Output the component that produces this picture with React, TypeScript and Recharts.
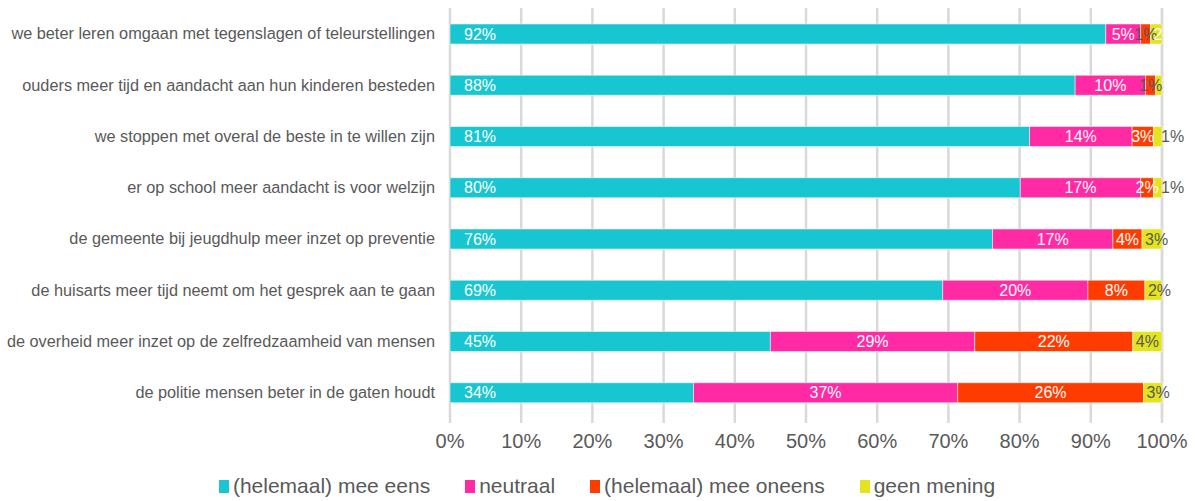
import React from 'react';
import { BarChart, Bar, XAxis, YAxis, CartesianGrid, Legend, LabelList } from 'recharts';

const categories = [
  'we beter leren omgaan met tegenslagen of teleurstellingen',
  'ouders meer tijd en aandacht aan hun kinderen besteden',
  'we stoppen met overal de beste in te willen zijn',
  'er op school meer aandacht is voor welzijn',
  'de gemeente bij jeugdhulp meer inzet op preventie',
  'de huisarts meer tijd neemt om het gesprek aan te gaan',
  'de overheid meer inzet op de zelfredzaamheid van mensen',
  'de politie mensen beter in de gaten houdt',
];

const eens = [92.1, 87.8, 81.4, 80.1, 76.2, 69.2, 45.0, 34.2];
const neutraal = [4.9, 9.9, 14.4, 16.9, 16.9, 20.4, 28.7, 37.1];
const oneens = [1.4, 1.4, 3.0, 1.8, 4.1, 8.0, 22.2, 26.1];
const geen = [1.6, 0.9, 1.2, 1.2, 2.8, 2.4, 4.1, 2.6];

const xTicks = [0, 10, 20, 30, 40, 50, 60, 70, 80, 90, 100];

const CYAN = '#17C6D1';
const PINK = '#FF2AA4';
const RED = '#FF3C00';
const YELLOW = '#E3E31E';
const TEXT = '#595959';
const GRID = '#D9D9D9';
const FONT = '"Liberation Sans", Arial, sans-serif';

const series = [
  { key: 'eens', name: '(helemaal) mee eens', color: CYAN },
  { key: 'neutraal', name: 'neutraal', color: PINK },
  { key: 'oneens', name: '(helemaal) mee oneens', color: RED },
  { key: 'geen', name: 'geen mening', color: YELLOW },
];

const data = categories.map((cat, i) => ({
  cat,
  eens: eens[i],
  neutraal: neutraal[i],
  oneens: oneens[i],
  geen: geen[i],
}));

type LblProps = { x?: any; y?: any; width?: any; height?: any; value?: any };

const pct = (v: number) => `${Math.round(v)}%`;

function LeftLabel({ x, y, height, value }: LblProps) {
  return (
    <text x={Number(x) + 14} y={Number(y) + Number(height) / 2} dy="0.35em" fill="#fff" fontSize={16} fontFamily={FONT}>
      {pct(value)}
    </text>
  );
}

function CenterLabel({ x, y, width, height, value }: LblProps) {
  const v = Number(value);
  return (
    <text
      x={Number(x) + Number(width) / 2}
      y={Number(y) + Number(height) / 2}
      dy="0.35em"
      textAnchor="middle"
      fill={v < 1.5 ? TEXT : '#fff'}
      fontSize={16}
      fontFamily={FONT}
    >
      {pct(v)}
    </text>
  );
}

// small yellow segments: label starts just inside, or right after the bar when very narrow
function YellowLabel({ x, y, width, height, value }: LblProps) {
  const v = Number(value);
  if (v < 1) return null;
  const w = Number(width);
  const inside = w >= 10;
  const lx = inside ? Number(x) + 3 : Number(x) + w - 1;
  const narrow = inside && v < 2;
  return (
    <text
      x={lx}
      y={Number(y) + Number(height) / 2}
      dy="0.35em"
      fill={narrow ? '#fff' : TEXT}
      fontSize={16}
      fontFamily={FONT}
    >
      {narrow ? String(Math.round(v)) : pct(v)}
    </text>
  );
}

function LegendContent() {
  return (
    <div
      style={{
        height: 30,
        display: 'flex',
        justifyContent: 'center',
        alignItems: 'center',
        gap: 35,
        fontFamily: FONT,
        fontSize: 21,
        color: TEXT,
        paddingLeft: 52,
        paddingTop: 2,
      }}
    >
      {series.map((s) => (
        <div key={s.key} style={{ display: 'flex', alignItems: 'center' }}>
          <span style={{ width: 10, height: 13, background: s.color, marginRight: 4, display: 'inline-block' }} />
          <span>{s.name}</span>
        </div>
      ))}
    </div>
  );
}

export default function App() {
  return (
    <div style={{ position: 'absolute', left: 0, top: 0, width: 1195, height: 501, background: '#fff' }}>
      <BarChart
        width={1195}
        height={501}
        data={data}
        layout="vertical"
        margin={{ top: 8, right: 33, bottom: 0, left: 0 }}
        barSize={20}
        style={{ fontFamily: FONT }}
      >
        <CartesianGrid horizontal={false} stroke={GRID} strokeWidth={2.5} />
        <XAxis
          type="number"
          domain={[0, 100]}
          ticks={xTicks}
          interval={0}
          tickFormatter={(v: number) => `${v}%`}
          axisLine={false}
          tickLine={{ stroke: GRID, strokeWidth: 2.5 }}
          tickSize={5}
          tickMargin={11}
          height={51}
          tick={{ fill: TEXT, fontSize: 20, fontFamily: FONT }}
        />
        <YAxis
          type="category"
          dataKey="cat"
          width={450}
          axisLine={false}
          tickLine={false}
          tickSize={0}
          tickMargin={15}
          tick={{ fill: TEXT, fontSize: 16.3, fontFamily: FONT }}
        />
        <Legend verticalAlign="bottom" content={<LegendContent />} />
        <Bar dataKey="eens" name={series[0].name} stackId="a" fill={CYAN} stroke="rgba(255,255,255,0.5)" strokeWidth={1} isAnimationActive={false}>
          <LabelList dataKey="eens" content={<LeftLabel />} />
        </Bar>
        <Bar dataKey="neutraal" name={series[1].name} stackId="a" fill={PINK} stroke="rgba(255,255,255,0.5)" strokeWidth={1} isAnimationActive={false}>
          <LabelList dataKey="neutraal" content={<CenterLabel />} />
        </Bar>
        <Bar dataKey="oneens" name={series[2].name} stackId="a" fill={RED} stroke="rgba(255,255,255,0.5)" strokeWidth={1} isAnimationActive={false}>
          <LabelList dataKey="oneens" content={<CenterLabel />} />
        </Bar>
        <Bar dataKey="geen" name={series[3].name} stackId="a" fill={YELLOW} stroke="rgba(255,255,255,0.5)" strokeWidth={1} isAnimationActive={false}>
          <LabelList dataKey="geen" content={<YellowLabel />} />
        </Bar>
      </BarChart>
    </div>
  );
}
